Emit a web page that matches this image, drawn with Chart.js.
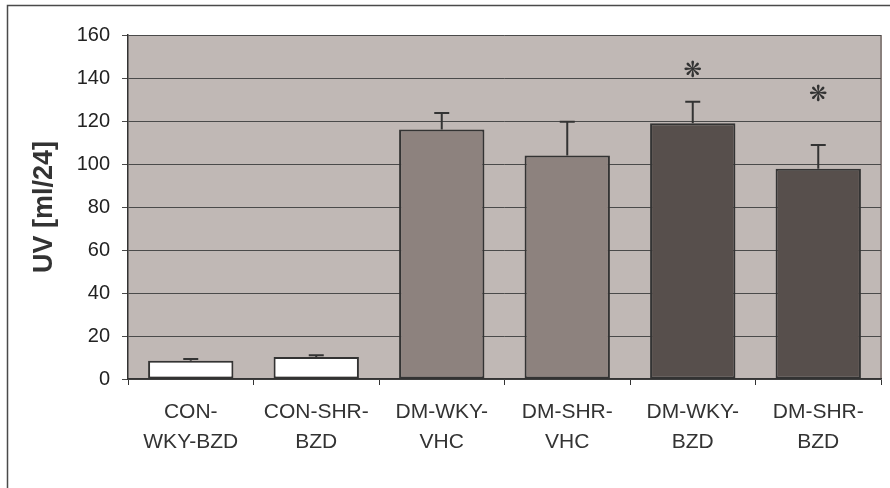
<!DOCTYPE html>
<html>
<head>
<meta charset="utf-8">
<script src="https://cdn.jsdelivr.net/npm/chart.js@4"></script>
<style>
  html, body { margin: 0; padding: 0; background: #fff; }
  #wrap { width: 890px; height: 488px; }
</style>
</head>
<body>
<div id="wrap"><canvas id="c" width="890" height="488"></canvas></div>
<script>
const categories = [
  ['CON-', 'WKY-BZD'],
  ['CON-SHR-', 'BZD'],
  ['DM-WKY-', 'VHC'],
  ['DM-SHR-', 'VHC'],
  ['DM-WKY-', 'BZD'],
  ['DM-SHR-', 'BZD']
];
const values = [8.5, 10.2, 116.1, 104.0, 118.9, 97.8];
const errors = [0.8, 0.9, 7.6, 15.7, 10.1, 11.0];
const starLevels = [null, null, null, null, 143, 132];
const barColors = ['#ffffff', '#ffffff', '#8d827e', '#8d827e', '#574f4c', '#574f4c'];
const yTicks = { min: 0, max: 160, step: 20 };
const yTitle = 'UV [ml/24]';

const bgPlugin = {
  id: 'bg',
  beforeDraw(chart) {
    const { ctx, chartArea: a } = chart;
    ctx.save();
    ctx.fillStyle = '#ffffff';
    ctx.fillRect(0, 0, chart.width, chart.height);
    ctx.strokeStyle = '#4a4a4a';
    ctx.lineWidth = 1.5;
    ctx.strokeRect(7.5, 5.5, chart.width + 40, chart.height + 40);
    ctx.fillStyle = '#c0b8b5';
    ctx.fillRect(a.left, a.top, a.right - a.left, a.bottom - a.top);
    ctx.strokeStyle = '#8a807d';
    ctx.lineWidth = 2;
    ctx.beginPath();
    ctx.moveTo(a.right, a.top);
    ctx.lineTo(a.right, a.bottom);
    ctx.stroke();
    ctx.restore();
  }
};

const errPlugin = {
  id: 'err',
  afterDatasetsDraw(chart) {
    const { ctx } = chart;
    const y = chart.scales.y;
    const meta = chart.getDatasetMeta(0);
    ctx.save();
    ctx.strokeStyle = '#333333';
    ctx.lineWidth = 2;
    meta.data.forEach((bar, i) => {
      const x = bar.x;
      const y0 = y.getPixelForValue(values[i]);
      const y1 = y.getPixelForValue(values[i] + errors[i]);
      ctx.beginPath();
      ctx.moveTo(x, y0);
      ctx.lineTo(x, y1);
      ctx.moveTo(x - 7.5, y1);
      ctx.lineTo(x + 7.5, y1);
      ctx.stroke();
    });
    ctx.fillStyle = '#333333';
    ctx.font = 'bold 22px "DejaVu Sans"';
    ctx.textAlign = 'center';
    ctx.textBaseline = 'middle';
    meta.data.forEach((bar, i) => {
      if (starLevels[i] == null) return;
      ctx.fillText('\u274B', bar.x, y.getPixelForValue(starLevels[i]));
    });
    ctx.restore();
  }
};

new Chart(document.getElementById('c'), {
  type: 'bar',
  data: {
    labels: categories,
    datasets: [{
      data: values,
      backgroundColor: barColors,
      borderColor: '#333333',
      borderWidth: 2,
      borderSkipped: false,
      barPercentage: 0.68,
      categoryPercentage: 1.0
    }]
  },
  options: {
    responsive: false,
    animation: false,
    devicePixelRatio: 1,
    layout: { padding: { left: 7, top: 35, right: 9, bottom: 0 } },
    plugins: { legend: { display: false }, tooltip: { enabled: false } },
    scales: {
      x: {
        afterFit(scale) { scale.height = 109; },
        grid: { display: true, drawOnChartArea: false, drawTicks: true, tickLength: 6, color: '#333333', lineWidth: 1 },
        border: { display: true, color: '#333333', width: 1.5 },
        ticks: {
          color: '#333333',
          font: { family: '"Liberation Sans", Arial, sans-serif', size: 21, lineHeight: 1.43 },
          padding: 12,
          maxRotation: 0,
          autoSkip: false
        }
      },
      y: {
        min: yTicks.min,
        max: yTicks.max,
        afterFit(scale) { scale.width = 121; },
        grid: { color: '#4a4a4a', lineWidth: 1, tickLength: 6, drawTicks: true },
        border: { display: true, color: '#333333', width: 1.5 },
        ticks: {
          stepSize: yTicks.step,
          color: '#222222',
          font: { family: '"Liberation Sans", Arial, sans-serif', size: 20 },
          padding: 12
        },
        title: {
          display: true,
          text: yTitle,
          color: '#333333',
          font: { family: '"Liberation Sans", Arial, sans-serif', size: 27, weight: 'bold', lineHeight: 1.2 },
          padding: { top: 21, bottom: 0 }
        }
      }
    }
  },
  plugins: [bgPlugin, errPlugin]
});
</script>
</body>
</html>
